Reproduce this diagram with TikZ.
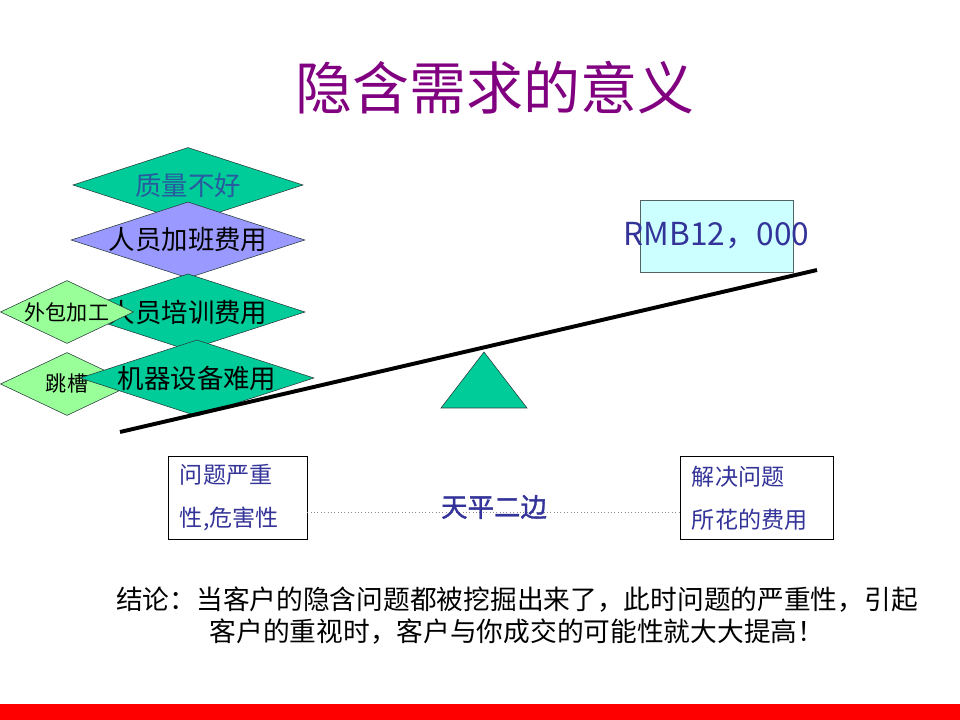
\documentclass[tikz,border=0pt]{standalone}
\usepackage{fontspec}
\usepackage{xcolor}
\usepackage{tikz}
\usetikzlibrary{positioning, shapes.geometric, calc}
\newfontfamily\cjk{Noto Sans CJK SC}
\newfontfamily\cjkheavy[FakeBold=1.2]{Noto Sans CJK SC}
\definecolor{hqGreen}{RGB}{0, 204, 153}
\definecolor{hqLight}{RGB}{153, 255, 153}
\definecolor{hqLilac}{RGB}{153, 153, 255}
\definecolor{hqCyan}{RGB}{204, 255, 255}
\definecolor{hqNavy}{RGB}{51, 51, 153}
\definecolor{hqPurple}{RGB}{128, 0, 128}
\definecolor{hqSteel}{RGB}{40, 90, 160}
\definecolor{hqEdge}{RGB}{40, 60, 60}
\definecolor{hqRed}{RGB}{255, 0, 0}
\tikzset{
    base/.style={
        font=\cjk,
        align=center,
        inner sep=0pt
    },
    cost/.style={
        base,
        diamond,
        aspect=3.07,
        draw=hqEdge,
        fill=hqGreen,
        minimum width=5.75cm,
        minimum height=1.875cm,
        font={\cjk\fontsize{18.8pt}{22pt}\selectfont}
    },
    side/.style={
        base,
        diamond,
        aspect=2.1,
        draw=hqEdge,
        fill=hqLight,
        minimum width=3.325cm,
        minimum height=1.575cm,
        font={\cjk\fontsize{15pt}{17pt}\selectfont}
    },
    pan/.style={
        base,
        rectangle,
        draw=black,
        thin,
        minimum height=2.075cm,
        inner xsep=0.3cm,
        align=left,
        text=hqNavy,
        font={\cjk\fontsize{16.4pt}{30.6pt}\selectfont}
    },
    beam/.style={
        line width=2.8pt,
        color=black
    },
    link/.style={
        dotted,
        thin,
        color=black!45
    },
    label/.style={
        base,
        text=hqNavy,
        font={\cjkheavy\fontsize{18.8pt}{22pt}\selectfont}
    }
}

\begin{document}
\begin{tikzpicture}[x=0.025cm, y=-0.025cm]
  \useasboundingbox (0,0) rectangle (960,720);

  % Title
  \node[base, text=hqPurple, font={\cjk\fontsize{40.5pt}{46pt}\selectfont}] (title) at (495,88) {隐含需求的意义};

  % Cost pile
  \node[cost, text=hqSteel] (quality) at (188,185) {质量不好};
  \node[cost, fill=hqLilac] (overtime) at (188,240) {人员加班费用};
  \node[cost] (training) at (188,312) {人员培训费用};
  \node[side] (outsource) at (67,312) {外包加工};
  \node[side] (quit) at (67,384) {跳槽};
  \node[cost, minimum width=5.725cm] (machine) at (197,378) {机器设备难用};

  % Balance
  \draw[beam] (120,432) -- (817,270);
  \draw[fill=hqGreen, draw=hqEdge] (484,352) -- (527,408) -- (441,408) -- cycle;

  % Price
  \node[base, draw=hqEdge!80, fill=hqCyan, minimum width=3.825cm, minimum height=1.8cm] (rmbbox) at (716.5,236) {};
  \node[base, text=hqNavy, font={\cjk\fontsize{22.5pt}{26pt}\selectfont}] (rmb) at (rmbbox.center) {RMB12，000};

  % Two sides
  \node[pan, minimum width=3.475cm, text width=2.875cm] (severity) at (237.5,498) {问题严重\\性,危害性};
  \node[pan, minimum width=3.825cm, text width=3.225cm] (expense) at (756.5,498) {解决问题\\所花的费用};
  \coordinate (mid) at (494,512);
  \draw[link] (severity.east |- mid) -- (expense.west |- mid);
  \node[label] (sides) at (494,507) {天平二边};

  % Conclusion
  \node[base, font={\cjk\fontsize{19pt}{22.8pt}\selectfont}] (summary) at (517,616) {结论：当客户的隐含问题都被挖掘出来了，此时问题的严重性，引起\\客户的重视时，客户与你成交的可能性就大大提高！};

  % Footer
  \fill[hqRed] (0,704) rectangle (960,720);
\end{tikzpicture}
\end{document}
